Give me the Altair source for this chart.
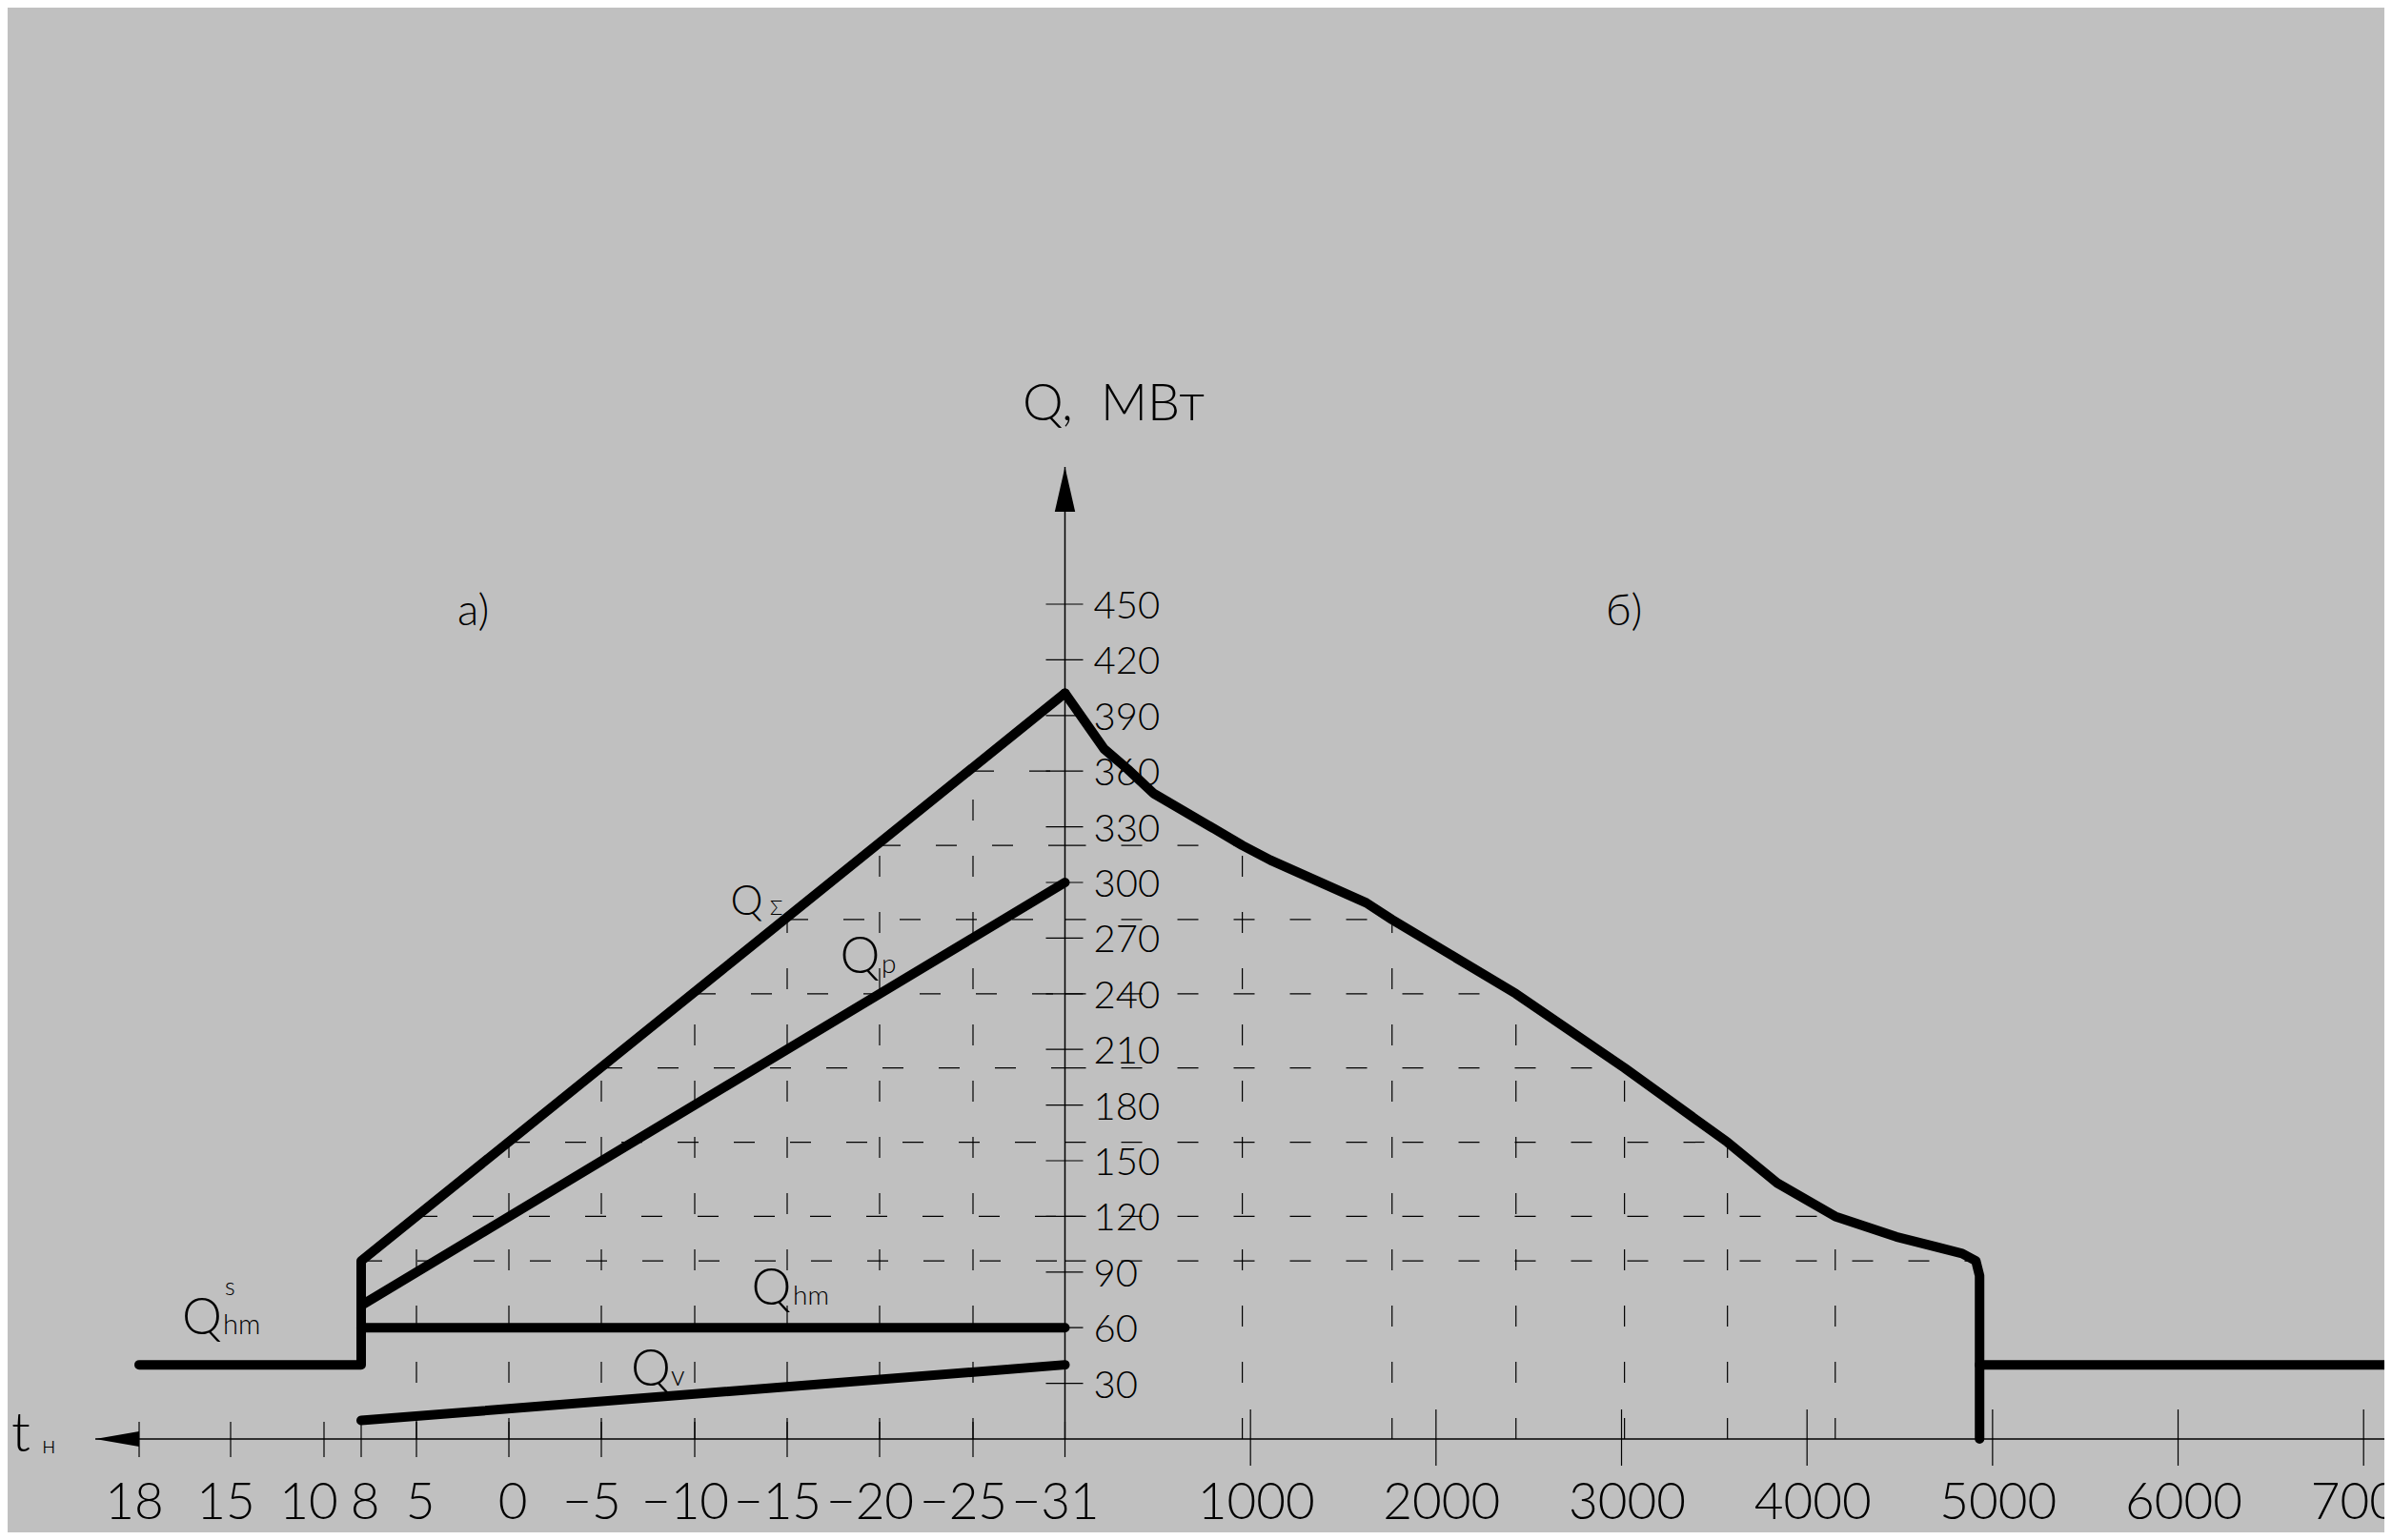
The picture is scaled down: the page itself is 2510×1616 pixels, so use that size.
import altair as alt
import pandas as pd

# ---------------- axis ticks and labels ----------------
temp_ticks = [18, 15, 10, 8, 5, 0, -5, -10, -15, -20, -25, -31]
temp_labels = ["18", "15", "10", "8", "5", "0", "−5", "−10", "−15", "−20", "−25", "−31"]
hour_ticks = [1000, 2000, 3000, 4000, 5000, 6000, 7000]
hour_labels = ["1000", "2000", "3000", "4000", "5000", "6000", "7000"]
q_ticks = [30, 60, 90, 120, 150, 180, 210, 240, 270, 300, 330, 360, 390, 420, 450]

# ---------------- a) loads vs outdoor temperature ----------------
sum_t = [18, 8, 8, -31]          # Q_sum (with summer hot water part)
sum_q = [40, 40, 96, 402]
p_t = [8, -31]                   # Q_p
p_q = [72, 300]
hm_t = [8, -31]                  # Q_hm
hm_q = [60, 60]
v_t = [8, -31]                   # Q_v
v_q = [10, 40]

# ---------------- b) load duration curve ----------------
dur_h = [0, 211, 339, 478, 786, 956, 1108, 1624, 1763, 2431, 3016, 3571, 3839,
         4152, 4481, 4836, 4910, 4930, 4930]
dur_q = [402, 372, 361, 348, 330, 320, 312, 289, 280, 240, 200, 160, 138,
         120, 109, 100, 96, 88, 0]
summer_h = [4930, 8760]
summer_q = [40, 40]

# construction (dashed) lines: temperature -> load level -> hours
grid_t = [8, 5, 0, -5, -10, -15, -20, -25]
grid_q = [96, 120, 160, 200, 240, 280, 320, 360]
grid_h = [4910, 4152, 3571, 3016, 2431, 1763, 956]

# ---------------- scales (drawing is not uniform on the temperature side) ----------------
scale_t = alt.Scale(domain=temp_ticks,
                    range=[138, 234, 332, 371, 429, 526, 623, 721, 818, 915, 1013, 1109.5],
                    nice=False, zero=False)
scale_h = alt.Scale(domain=[0, 7000], range=[1109.5, 2472.2], nice=False, zero=False)
scale_q = alt.Scale(domain=[0, 450], range=[1502, 626], nice=False, zero=False)

FONT = "Lato"
FW = 300
BLACK = "black"


def TX(f):
    return alt.X(f, type="quantitative", scale=scale_t, axis=None)


def HX(f):
    return alt.X(f, type="quantitative", scale=scale_h, axis=None)


def QY(f):
    return alt.Y(f, type="quantitative", scale=scale_q, axis=None)


thick = dict(color=BLACK, strokeWidth=10, strokeCap="round", strokeJoin="round")
dash = dict(color=BLACK, strokeWidth=1.2, strokeDash=[22, 37])


def seq(xname, xs, qs):
    return pd.DataFrame({xname: xs, "q": qs, "i": list(range(len(xs)))})


layers = []

# dashed construction lines
layers.append(alt.Chart(pd.DataFrame({"t": grid_t[1:], "q0": 0, "q": grid_q[1:]}))
              .mark_rule(**dash).encode(x=TX("t"), y=QY("q0"), y2="q"))
layers.append(alt.Chart(pd.DataFrame({"t": grid_t, "t2": -31, "q": grid_q}))
              .mark_rule(**dash).encode(x=TX("t"), x2="t2", y=QY("q")))
layers.append(alt.Chart(pd.DataFrame({"h0": 0, "h": grid_h, "q": grid_q[:7]}))
              .mark_rule(**dash).encode(x=HX("h0"), x2="h", y=QY("q")))
layers.append(alt.Chart(pd.DataFrame({"h": grid_h[1:], "q0": 0, "q": grid_q[1:7]}))
              .mark_rule(**dash).encode(x=HX("h"), y=QY("q0"), y2="q"))

# axes lines
layers.append(alt.Chart(pd.DataFrame({"q": [0]})).mark_rule(color=BLACK, strokeWidth=1.5)
              .encode(x=alt.value(92), x2=alt.value(2494), y=QY("q")))
layers.append(alt.Chart(pd.DataFrame({"h": [0], "q": [0]})).mark_rule(color=BLACK, strokeWidth=1.5)
              .encode(x=HX("h"), y=QY("q"), y2=alt.value(482)))
# arrow heads
layers.append(alt.Chart(pd.DataFrame({"q": [0]}))
              .mark_point(shape="M-1,0L1,-0.35L1,0.35Z", size=2116, filled=True,
                          color=BLACK, opacity=1, strokeWidth=0)
              .encode(x=alt.value(115), y=QY("q")))
layers.append(alt.Chart(pd.DataFrame({"h": [0]}))
              .mark_point(shape="M0,-1L0.455,1L-0.455,1Z", size=2209, filled=True,
                          color=BLACK, opacity=1, strokeWidth=0)
              .encode(x=HX("h"), y=alt.value(505.5)))

# ticks
layers.append(alt.Chart(pd.DataFrame({"h": 0, "q": q_ticks}))
              .mark_rule(color=BLACK, strokeWidth=1.2, xOffset=-20, x2Offset=19)
              .encode(x=HX("h"), x2="h", y=QY("q")))
layers.append(alt.Chart(pd.DataFrame({"t": temp_ticks, "q": 0}))
              .mark_rule(color=BLACK, strokeWidth=1.2, yOffset=-18, y2Offset=19)
              .encode(x=TX("t"), y=QY("q"), y2="q"))
layers.append(alt.Chart(pd.DataFrame({"h": hour_ticks, "q": 0}))
              .mark_rule(color=BLACK, strokeWidth=1.2, yOffset=-31, y2Offset=28)
              .encode(x=HX("h"), y=QY("q"), y2="q"))

# tick labels
lab_style = dict(align="center", baseline="alphabetic", dy=84, fontSize=53,
                 font=FONT, fontWeight=FW, color=BLACK)
tl = pd.DataFrame({"t": temp_ticks, "lab": temp_labels, "q": 0})
for part, shift in ((tl[tl.t > 10], -5), (tl[tl.t == 10], -16),
                    (tl[(tl.t >= 0) & (tl.t < 10)], 4), (tl[tl.t < 0], -10)):
    layers.append(alt.Chart(part).mark_text(dx=shift, **lab_style)
                  .encode(x=TX("t"), y=QY("q"), text="lab:N"))
layers.append(alt.Chart(pd.DataFrame({"h": hour_ticks, "lab": hour_labels, "q": 0}))
              .mark_text(dx=6, **lab_style)
              .encode(x=HX("h"), y=QY("q"), text="lab:N"))
layers.append(alt.Chart(pd.DataFrame({"h": 0, "q": q_ticks, "lab": [str(v) for v in q_ticks]}))
              .mark_text(align="left", baseline="alphabetic", dx=30, dy=15,
                         fontSize=40, font=FONT, fontWeight=FW, color=BLACK)
              .encode(x=HX("h"), y=QY("q"), text="lab:N"))

# thick curves
layers.append(alt.Chart(seq("t", sum_t, sum_q)).mark_line(**thick)
              .encode(x=TX("t"), y=QY("q"), order=alt.Order("i:Q")))
layers.append(alt.Chart(seq("t", p_t, p_q)).mark_line(**thick)
              .encode(x=TX("t"), y=QY("q"), order=alt.Order("i:Q")))
layers.append(alt.Chart(seq("t", hm_t, hm_q)).mark_line(**thick)
              .encode(x=TX("t"), y=QY("q"), order=alt.Order("i:Q")))
layers.append(alt.Chart(seq("t", v_t, v_q)).mark_line(**thick)
              .encode(x=TX("t"), y=QY("q"), order=alt.Order("i:Q")))
layers.append(alt.Chart(seq("h", dur_h, dur_q)).mark_line(**thick)
              .encode(x=HX("h"), y=QY("q"), order=alt.Order("i:Q")))
layers.append(alt.Chart(seq("h", summer_h, summer_q)).mark_line(clip=True, **thick)
              .encode(x=HX("h"), y=QY("q"), order=alt.Order("i:Q")))

# annotations (text, x, y, font size)  -- layout only
ann_center = [("Q", 775.5, 952, 43), ("Q", 894.5, 1013, 53), ("Q", 801.5, 1361, 53),
              ("Q", 675, 1446, 53), ("Q", 204, 1392, 53)]
ann_left = [("Q,\u00a0\u00a0МВт", 1065, 433, 54), ("а)", 472, 648, 46), ("б)", 1677, 648, 46),
            ("Σ", 800, 952, 22), ("р", 917, 1013, 28), ("hm", 824, 1361, 28),
            ("v", 696, 1446, 29), ("hm", 226, 1392, 29), ("s", 228, 1351, 25),
            ("t", 4, 1515, 58), ("н", 36, 1517, 26)]

for rows, al in ((ann_center, "center"), (ann_left, "left")):
    df = pd.DataFrame(rows, columns=["txt", "px", "py", "fs"])
    layers.append(alt.Chart(df).mark_text(align=al, baseline="alphabetic", font=FONT,
                                          fontWeight=FW, color=BLACK)
                  .encode(x=alt.X("px:Q", scale=None), y=alt.Y("py:Q", scale=None),
                          size=alt.Size("fs:Q", scale=None, legend=None), text="txt:N"))

chart = (alt.layer(*layers)
         .resolve_scale(x="independent")
         .properties(width=2494, height=1600, background="#c0c0c0", padding=0,
                     autosize=alt.AutoSizeParams(type="none"))
         .configure_view(strokeWidth=0))

chart.save("out.html", embed_options={"renderer": "svg", "actions": False})
